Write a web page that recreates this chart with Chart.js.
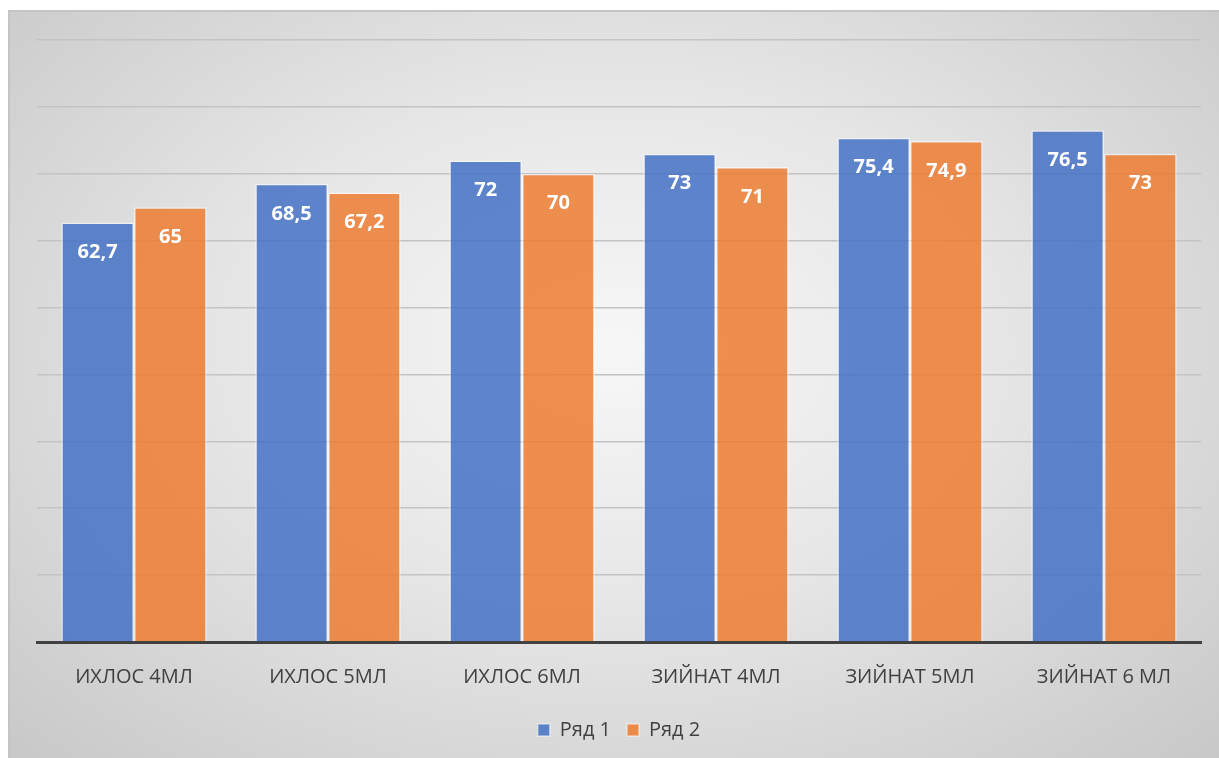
<!DOCTYPE html>
<html>
<head>
<meta charset="utf-8">
<script src="https://cdn.jsdelivr.net/npm/chart.js@4/dist/chart.umd.min.js"></script>
<style>
  html, body { margin:0; padding:0; background:#fff; }
  #wrap {
    position:absolute; left:8px; top:10px; width:1211px; height:748px;
    border-top:2px solid #c4c4c4; border-left:2px solid #c4c4c4;
    box-sizing:border-box;
    background: radial-gradient(ellipse at 50% 45%, #f7f7f7 0%, #e6e6e6 45%, #c8c8c8 100%);
  }
</style>
</head>
<body>
<div id="wrap"><canvas id="chart"></canvas></div>
<script>
// данные
const categories = ['ИХЛОС 4МЛ', 'ИХЛОС 5МЛ', 'ИХЛОС 6МЛ', 'ЗИЙНАТ 4МЛ', 'ЗИЙНАТ 5МЛ', 'ЗИЙНАТ 6 МЛ']
const row1 = [62.7, 68.5, 72, 73, 75.4, 76.5]
const row2 = [65, 67.2, 70, 71, 74.9, 73]
const seriesNames = ['Ряд 1', 'Ряд 2']

const font = "'Open Sans', 'Noto Sans', sans-serif"

// подписи внутри столбцов
const barLabels = {
  id: 'barLabels',
  afterDatasetsDraw(chart){
    const ctx = chart.ctx
    ctx.save()
    ctx.fillStyle = '#ffffff'
    ctx.font = 'bold 20px ' + font
    ctx.textAlign = 'center'
    ctx.textBaseline = 'middle'
    chart.data.datasets.forEach((ds, i) => {
      chart.getDatasetMeta(i).data.forEach((bar, j) => {
        const txt = String(ds.data[j]).replace('.', ',')
        ctx.fillText(txt, bar.x, bar.y + 30)
      })
    })
    ctx.restore()
  }
}

const canvas = document.getElementById('chart')
canvas.width = 1209
canvas.height = 746
canvas.style.width = '1209px'
canvas.style.height = '746px'

new Chart(canvas.getContext('2d'), {
  type: 'bar',
  data: {
    labels: categories,
    datasets: [
      {
        label: seriesNames[0],
        data: row1,
        backgroundColor: 'rgba(68,114,196,0.85)',
        borderColor: 'rgba(255,255,255,0.5)',
        borderWidth: 1.5
      },
      {
        label: seriesNames[1],
        data: row2,
        backgroundColor: 'rgba(237,125,49,0.85)',
        borderColor: 'rgba(255,255,255,0.5)',
        borderWidth: 1.5
      }
    ]
  },
  options: {
    responsive: false,
    animation: false,
    devicePixelRatio: 1,
    barPercentage: 1,
    categoryPercentage: 0.75,
    layout: { padding: { left: 27, right: 18, top: 28, bottom: 8 } },
    plugins: {
      legend: {
        position: 'bottom',
        labels: {
          boxWidth: 12,
          boxHeight: 12,
          color: '#404040',
          font: { family: font, size: 20 },
          padding: 16
        }
      },
      tooltip: { enabled: false }
    },
    scales: {
      y: {
        min: 0,
        max: 90,
        ticks: { display: false, stepSize: 10 },
        grid: { color: '#c3c3c3', lineWidth: 1.5, drawTicks: false },
        border: { display: false }
      },
      x: {
        grid: { display: false },
        border: { display: true, color: '#404040', width: 3 },
        ticks: {
          color: '#404040',
          font: { family: font, size: 20 },
          padding: 15
        }
      }
    }
  },
  plugins: [barLabels]
})
</script>
</body>
</html>
